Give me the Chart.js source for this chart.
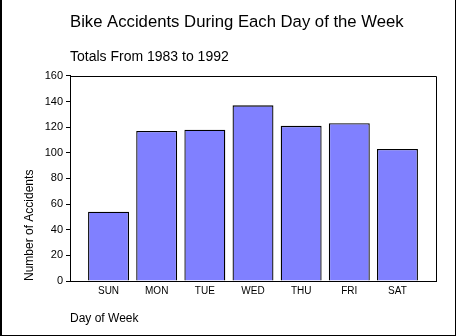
<!DOCTYPE html>
<html>
<head>
<meta charset="utf-8">
<script src="https://cdn.jsdelivr.net/npm/chart.js@4"></script>
<style>
  html, body { margin: 0; padding: 0; background: #fff; }
  canvas { display: block; }
</style>
</head>
<body>
<canvas id="chart" width="456" height="336"></canvas>
<script>
// Bike accidents per weekday, totals 1983-1992
const DAYS = ["SUN", "MON", "TUE", "WED", "THU", "FRI", "SAT"];
const ACCIDENTS = [54, 117, 118, 137, 121, 123, 103];
const Y_TICKS = [0, 20, 40, 60, 80, 100, 120, 140, 160];

const FONT = '"Liberation Sans", Arial, sans-serif';
const BAR_COLOR = "#8080ff";

// plot box (top/right lines) and the outer frame
const framePlugin = {
  id: "frame",
  beforeDraw(chart) {
    const ctx = chart.ctx;
    ctx.save();
    ctx.fillStyle = "#fff";
    ctx.fillRect(0, 0, chart.width, chart.height);
    ctx.restore();
  },
  afterDraw(chart) {
    const { ctx, chartArea: a } = chart;
    ctx.save();
    ctx.strokeStyle = "#000";
    ctx.lineWidth = 1;
    ctx.beginPath();
    ctx.moveTo(a.left, Math.round(a.top) + 0.5);
    ctx.lineTo(Math.round(a.right) + 0.5, Math.round(a.top) + 0.5);
    ctx.lineTo(Math.round(a.right) + 0.5, a.bottom);
    ctx.stroke();
    ctx.fillStyle = "#000";
    ctx.fillRect(0, 0, 2, chart.height);
    ctx.fillRect(chart.width - 1, 0, 1, chart.height);
    ctx.fillRect(0, chart.height - 1, chart.width, 1);
    ctx.restore();
  },
};

new Chart(document.getElementById("chart"), {
  type: "bar",
  data: {
    datasets: [{
      data: ACCIDENTS.map((v, i) => ({ x: i, y: v })),
      backgroundColor: BAR_COLOR,
      borderColor: "#000",
      borderWidth: 1.3,
      barPercentage: 0.85,
      categoryPercentage: 1,
    }],
  },
  options: {
    responsive: false,
    animation: false,
    layout: { padding: { left: 22, right: 20, top: 0, bottom: 0 } },
    plugins: {
      legend: { display: false },
      tooltip: { enabled: false },
      title: {
        display: true,
        text: "Bike Accidents During Each Day of the Week",
        align: "start",
        fullSize: false,
        color: "#000",
        font: { family: FONT, size: 16.7, weight: "normal" },
        padding: { top: 12, bottom: 0 },
      },
      subtitle: {
        display: true,
        text: "Totals From 1983 to 1992",
        align: "start",
        fullSize: false,
        color: "#000",
        font: { family: FONT, size: 14, weight: "normal" },
        padding: { top: 17, bottom: 10 },
      },
    },
    scales: {
      x: {
        type: "linear",
        offset: false,
        min: -0.8,
        max: 6.8,
        afterFit: (s) => { s.height = 55; },
        afterBuildTicks: (s) => { s.ticks = DAYS.map((d, i) => ({ value: i })); },
        ticks: {
          autoSkip: false,
          maxRotation: 0,
          padding: 4,
          color: "#000",
          font: { family: FONT, size: 10 },
          callback: (v) => DAYS[v] ?? "",
        },
        grid: { display: false, drawTicks: false },
        border: { display: true, color: "#000", width: 1 },
        title: {
          display: true,
          text: "Day of Week",
          align: "start",
          color: "#000",
          font: { family: FONT, size: 12 },
          padding: { top: 0, bottom: 10 },
        },
      },
      y: {
        min: 0,
        max: 160,
        afterFit: (s) => { s.width = 48; },
        afterBuildTicks: (s) => { s.ticks = Y_TICKS.map((v) => ({ value: v })); },
        ticks: {
          padding: 3,
          color: "#000",
          font: { family: FONT, size: 11 },
        },
        grid: { drawOnChartArea: false, drawTicks: true, tickLength: 4, color: "#000" },
        border: { display: true, color: "#000", width: 1 },
        title: {
          display: true,
          text: "Number of Accidents",
          align: "start",
          color: "#000",
          font: { family: FONT, size: 12 },
          padding: { top: 0, bottom: 0 },
        },
      },
    },
  },
  plugins: [framePlugin],
});
</script>
</body>
</html>
